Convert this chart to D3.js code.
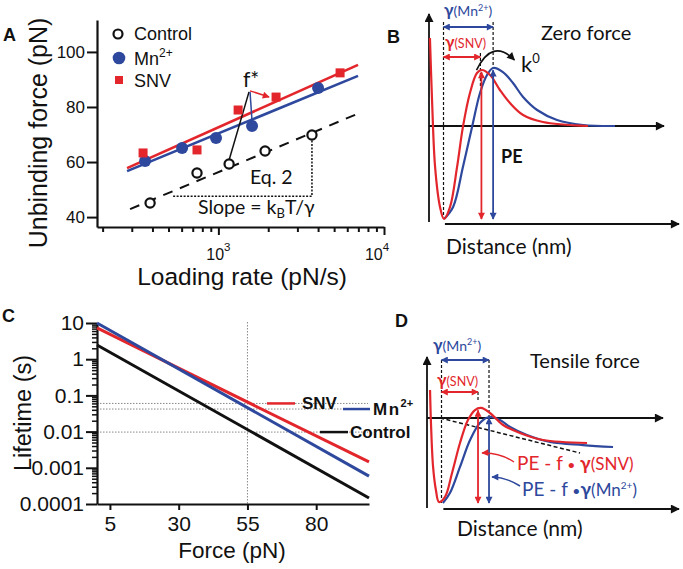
<!DOCTYPE html>
<html><head><meta charset="utf-8">
<script src="https://cdn.jsdelivr.net/npm/d3@7"></script>
<style>
body{margin:0;background:#fff;}
svg text{font-family:"Liberation Sans",Arial,Helvetica,sans-serif;fill:#111;}
svg text.cal{font-family:Lato,"Open Sans",sans-serif;}
</style></head><body>
<svg id="fig" width="683" height="569"></svg>
<script>
// ---------------- Panel A data (unbinding force vs loading rate) ----------------
const rateControl = [387, 743, 1161, 1914, 3673];
const forceControl = [45.1, 56.0, 59.3, 64.0, 69.8];
const rateMn = [361, 604, 968, 1597, 4000];
const forceMn = [60.4, 65.1, 68.7, 73.1, 86.9];
const rateSNV = [351, 743, 1316, 2230, 5430];
const forceSNV = [63.3, 64.4, 78.9, 83.6, 92.4];
const fitRate = [281, 6970];
const fitForceSNV = [57.8, 95.3];
const fitForceMn = [56.7, 91.3];
const fitRateControl = [293, 7360];
const fitForceControl = [42.9, 78.2];
const yTicksA = [40, 60, 80, 100];
const xMajorA = [1000, 10000];
const xMinorA = [200, 300, 400, 500, 600, 700, 800, 900, 2000, 3000, 4000, 5000, 6000, 7000, 8000, 9000];
const legendA = ["Control", "Mn", "SNV"];
const fStarOrigin = [1531, 85.5];
const slopeBracket = [533, 47.6];

// ---------------- Panel C data (lifetime vs force) ----------------
const forceC = [0.3, 99.2];
const lifetimeSNV = [7.3, 0.00145];
const lifetimeMn = [10, 0.00059];
const lifetimeControl = [2.47, 0.000147];
const xTicksC = [5, 30, 55, 80];
const yTicksC = [10, 1, 0.1, 0.01, 0.001, 0.0001];
const yTickLabelsC = ["10", "1", "0.1", "0.01", "0.001", "0.0001"];
const refForceC = 55;
const refLifetimes = [0.06, 0.042, 0.0097];

// ---------------- Panel B / D schematic energy landscapes ----------------
const distB_SNV = [0.4, 1.3, 2.6, 4.7, 6.4, 9.0, 12.0, 14.5, 17.5, 20.5, 22.6, 26.1, 30.3, 34.6, 40.2, 48.7, 67.9];
const peB_SNV = [94.6, 28, -44, -87, -100, -87, -44, -1, 35.5, 57, 60.2, 54.8, 38.7, 24.7, 11.8, 4.3, 0];
const distB_Mn = [6.4, 10.3, 14.5, 18.4, 21.8, 24.8, 27.4, 31.6, 35.9, 40.2, 46.2, 54.7, 65.8, 79.5];
const peB_Mn = [-100, -87, -44, -1, 35.5, 54.8, 62.4, 58, 46.2, 31.2, 17.2, 6.5, 1.1, 0];
const distD_SNV = [1.3, 1.7, 2.6, 3.8, 5.1, 7.7, 10.7, 14.1, 17.5, 20.5, 23.1, 26.9, 32.5, 39.7, 49.6, 68.4];
const peD_SNV = [32.9, -5.9, -57.6, -84.7, -98.8, -92.9, -64.7, -29.4, -2.4, 9.4, 11.8, 5.9, -8.2, -17.6, -25.9, -29.4];
const distD_Mn = [6.8, 9.8, 14.1, 18.4, 22.6, 26.5, 31.2, 35.5, 42.7, 52.6, 66.7, 79.5];
const peD_Mn = [-100, -88.2, -57.6, -25.9, -5.9, 1.2, -2.4, -10.6, -20, -28.2, -31.8, -34.1];
const forceTiltDist = [5.6, 65.4];
const forceTiltPE = [0, -41.2];
const minDist = 6.2, peakSNV_B = 22.4, peakMn_B = 27.4, peakSNV_D = 21.8, peakMn_D = 26.5;

const RED = "#e2262c", BLUE = "#2d489c", BLACK = "#111";
const svg = d3.select("#fig");
svg.append("rect").attr("width", 683).attr("height", 569).attr("fill", "#fff");
const defs = svg.append("defs");
function marker(id, color, w, h) {
  defs.append("marker").attr("id", id).attr("viewBox", "0 0 10 10")
    .attr("refX", 9).attr("refY", 5).attr("markerWidth", w).attr("markerHeight", h)
    .attr("markerUnits", "userSpaceOnUse").attr("orient", "auto-start-reverse")
    .append("path").attr("d", "M0,0L10,5L0,10z").attr("fill", color);
}
marker("axArrow", BLACK, 11, 9);
marker("rArrow", RED, 8, 7);
marker("bArrow", BLUE, 8, 7);
marker("kArrow", BLACK, 9, 8);

function rich(g, x, y, parts, opts = {}) {
  const t = g.append("text").attr("x", x).attr("y", y);
  if (opts.cls) t.attr("class", opts.cls);
  if (opts.anchor) t.attr("text-anchor", opts.anchor);
  if (opts.size) t.attr("font-size", opts.size);
  if (opts.fill) t.style("fill", opts.fill);
  if (opts.weight) t.attr("font-weight", opts.weight);
  if (opts.transform) t.attr("transform", opts.transform);
  parts.forEach(p => {
    const s = t.append("tspan").text(p.t);
    if (p.size) s.attr("font-size", p.size);
    if (p.dy) s.attr("dy", p.dy);
    if (p.weight) s.attr("font-weight", p.weight);
    if (p.fill) s.style("fill", p.fill);
    if (p.ls) s.attr("letter-spacing", p.ls);
  });
  return t;
}

// ======================= PANEL A =======================
const gA = svg.append("g");
const xA = d3.scaleLog().domain([185, 10000]).range([97, 384]);
const yA = d3.scaleLinear().domain([36.4, 111.6]).range([227, 20]);

gA.append("g").attr("transform", "translate(97,0)")
  .call(d3.axisLeft(yA).tickValues(yTicksA).tickSize(10).tickPadding(2).tickSizeOuter(0))
  .call(g => {
    g.select(".domain").attr("stroke-width", 2.2).attr("stroke", BLACK);
    g.selectAll(".tick line").attr("stroke-width", 2).attr("stroke", BLACK);
    g.selectAll(".tick text").attr("font-size", 17).attr("font-family", "Liberation Sans, Arial").style("fill", BLACK);
  });
gA.append("g").attr("transform", "translate(0,227)")
  .call(d3.axisBottom(xA).tickValues(xMinorA).tickSize(5).tickFormat("").tickSizeOuter(0))
  .call(g => { g.select(".domain").attr("stroke-width", 2.2).attr("stroke", BLACK); g.selectAll(".tick line").attr("stroke-width", 2).attr("stroke", BLACK); });
gA.append("g").attr("transform", "translate(0,227)")
  .call(d3.axisBottom(xA).tickValues(xMajorA).tickSize(8).tickFormat("").tickSizeOuter(0))
  .call(g => { g.select(".domain").remove(); g.selectAll(".tick line").attr("stroke-width", 2).attr("stroke", BLACK); });
xMajorA.forEach((v, i) => {
  rich(gA, xA(v) + (i === 1 ? -7 : 0), 260, [{ t: "10" }, { t: String(Math.round(Math.log10(v))), size: 11.5, dy: -9 }], { anchor: "middle", size: 16 });
});
gA.append("text").attr("x", 242).attr("y", 285).attr("text-anchor", "middle").attr("font-size", 24.5).text("Loading rate (pN/s)");
gA.append("text").attr("transform", "translate(47,133) rotate(-90)").attr("text-anchor", "middle").attr("font-size", 25).text("Unbinding force (pN)");
gA.append("text").attr("x", 3).attr("y", 41).attr("font-size", 18).attr("font-weight", "bold").text("A");

// fit lines
const lineA = d3.line().x(d => xA(d[0])).y(d => yA(d[1]));
gA.append("path").attr("d", lineA(d3.zip(fitRateControl, fitForceControl))).attr("fill", "none")
  .attr("stroke", BLACK).attr("stroke-width", 2).attr("stroke-dasharray", "10,8");
gA.append("path").attr("d", lineA(d3.zip(fitRate, fitForceMn))).attr("fill", "none").attr("stroke", BLUE).attr("stroke-width", 2.6);
gA.append("path").attr("d", lineA(d3.zip(fitRate, fitForceSNV))).attr("fill", "none").attr("stroke", RED).attr("stroke-width", 2.6);

// slope bracket (dotted)
gA.append("path").attr("d", `M${xA(slopeBracket[0])},${yA(slopeBracket[1])}H${xA(rateControl[4])}V${yA(forceControl[4]) + 5}`)
  .attr("fill", "none").attr("stroke", BLACK).attr("stroke-width", 1.5).attr("stroke-dasharray", "2,1.5");

// f* leader lines
const fo = [xA(fStarOrigin[0]), yA(fStarOrigin[1])];
gA.append("line").attr("x1", fo[0]).attr("y1", fo[1]).attr("x2", xA(rateControl[2])).attr("y2", yA(forceControl[2]) - 4)
  .attr("stroke", BLACK).attr("stroke-width", 1.5);
gA.append("line").attr("x1", fo[0] + 1).attr("y1", fo[1]).attr("x2", xA(rateMn[3])).attr("y2", yA(forceMn[3]) - 5)
  .attr("stroke", BLUE).attr("stroke-width", 1.5);
gA.append("line").attr("x1", fo[0] + 1).attr("y1", fo[1] - 1).attr("x2", xA(rateSNV[3]) - 7).attr("y2", yA(forceSNV[3]))
  .attr("stroke", RED).attr("stroke-width", 1.5).attr("marker-end", "url(#rArrow)");

// markers
gA.selectAll(".ctl").data(d3.zip(rateControl, forceControl)).join("circle")
  .attr("cx", d => xA(d[0])).attr("cy", d => yA(d[1])).attr("r", 4.6)
  .attr("fill", "#fff").attr("stroke", BLACK).attr("stroke-width", 2.2);
gA.selectAll(".mn").data(d3.zip(rateMn, forceMn)).join("circle")
  .attr("cx", d => xA(d[0])).attr("cy", d => yA(d[1])).attr("r", 6).attr("fill", BLUE);
gA.selectAll(".snv").data(d3.zip(rateSNV, forceSNV)).join("rect")
  .attr("x", d => xA(d[0]) - 4.5).attr("y", d => yA(d[1]) - 4.5).attr("width", 9).attr("height", 9).attr("fill", RED);

gA.append("text").attr("class", "cal").attr("x", 243).attr("y", 87).attr("font-size", 21).text("f*");
gA.append("text").attr("class", "cal").attr("x", 250).attr("y", 184).attr("font-size", 19.5).text("Eq. 2");
rich(gA, 198, 214, [{ t: "Slope = k" }, { t: "B", size: 13, dy: 4 }, { t: "T/γ", dy: -4 }], { cls: "cal", size: 19.5 });

// legend A
gA.append("circle").attr("cx", 118).attr("cy", 34).attr("r", 4.5).attr("fill", "#fff").attr("stroke", BLACK).attr("stroke-width", 2.2);
gA.append("circle").attr("cx", 119).attr("cy", 58).attr("r", 6.3).attr("fill", BLUE);
gA.append("rect").attr("x", 115).attr("y", 76).attr("width", 8).attr("height", 8).attr("fill", RED);
gA.append("text").attr("x", 134).attr("y", 40).attr("font-size", 18).text(legendA[0]);
rich(gA, 134, 65, [{ t: legendA[1] }, { t: "2+", size: 12, dy: -8 }], { size: 18 });
gA.append("text").attr("x", 134).attr("y", 87).attr("font-size", 18).text(legendA[2]);

// ======================= PANEL C =======================
const gC = svg.append("g");
const xC = d3.scaleLinear().domain(forceC).range([97, 369]);
const yC = d3.scaleLog().domain([1e-4, 10]).range([504, 323]);
const minorC = [];
[1e-4, 1e-3, 1e-2, 1e-1, 1].forEach(dec => { for (let k = 2; k <= 9; k++) minorC.push(dec * k); });

// reference dotted lines
refLifetimes.forEach(v => {
  gC.append("line").attr("x1", 97).attr("x2", 368).attr("y1", yC(v)).attr("y2", yC(v))
    .attr("stroke", "#888").attr("stroke-width", 1).attr("stroke-dasharray", "1.5,1.5");
});
gC.append("line").attr("x1", xC(refForceC)).attr("x2", xC(refForceC)).attr("y1", 322).attr("y2", 504)
  .attr("stroke", "#888").attr("stroke-width", 1).attr("stroke-dasharray", "1.5,1.5");

gC.append("g").attr("transform", "translate(97,0)")
  .call(d3.axisLeft(yC).tickValues(minorC).tickSize(5).tickFormat("").tickSizeOuter(0))
  .call(g => { g.select(".domain").attr("stroke-width", 2.2).attr("stroke", BLACK); g.selectAll(".tick line").attr("stroke-width", 1.5).attr("stroke", BLACK); });
gC.append("g").attr("transform", "translate(97,0)")
  .call(d3.axisLeft(yC).tickValues(yTicksC).tickSize(11).tickPadding(2).tickSizeOuter(0).tickFormat((d, i) => yTickLabelsC[i]))
  .call(g => {
    g.select(".domain").remove();
    g.selectAll(".tick line").attr("stroke-width", 2).attr("stroke", BLACK);
    g.selectAll(".tick text").attr("font-size", 21).attr("font-family", "Liberation Sans, Arial").style("fill", BLACK);
  });
gC.append("g").attr("transform", "translate(0,504)")
  .call(d3.axisBottom(xC).tickValues(xTicksC).tickSize(6).tickPadding(6).tickSizeOuter(0))
  .call(g => {
    g.select(".domain").attr("stroke-width", 2.2).attr("stroke", BLACK);
    g.selectAll(".tick line").attr("stroke-width", 2).attr("stroke", BLACK);
    g.selectAll(".tick text").attr("font-size", 21).attr("font-family", "Liberation Sans, Arial").style("fill", BLACK);
  });
gC.append("text").attr("x", 232).attr("y", 558).attr("text-anchor", "middle").attr("font-size", 22.5).text("Force (pN)");
gC.append("text").attr("transform", "translate(31,413) rotate(-90)").attr("text-anchor", "middle").attr("font-size", 23.5).text("Lifetime (s)");
gC.append("text").attr("x", 2).attr("y", 322).attr("font-size", 18).attr("font-weight", "bold").text("C");

const lineC = d3.line().x(d => xC(d[0])).y(d => yC(d[1]));
gC.append("path").attr("d", lineC(d3.zip(forceC, lifetimeSNV))).attr("fill", "none").attr("stroke", RED).attr("stroke-width", 3);
gC.append("path").attr("d", lineC(d3.zip(forceC, lifetimeMn))).attr("fill", "none").attr("stroke", BLUE).attr("stroke-width", 3);
gC.append("path").attr("d", lineC(d3.zip(forceC, lifetimeControl))).attr("fill", "none").attr("stroke", BLACK).attr("stroke-width", 3);

// legend C
const legC = [
  { c: RED, x1: 267, x2: 295, tx: 302, parts: [{ t: "SNV" }] },
  { c: BLUE, x1: 343, x2: 370, tx: 373, parts: [{ t: "Mn", ls: 1.5 }, { t: "2+", size: 11, dy: -8 }] },
  { c: BLACK, x1: 320, x2: 348, tx: 350, parts: [{ t: "Control" }] }
];
legC.forEach((l, i) => {
  const y = yC(refLifetimes[i]);
  gC.append("line").attr("x1", l.x1).attr("x2", l.x2).attr("y1", y).attr("y2", y).attr("stroke", l.c).attr("stroke-width", 2.5);
  rich(gC, l.tx, y + 6, l.parts, { size: 17, weight: "bold" });
});

// ======================= PANEL B =======================
const gB = svg.append("g");
const xB = d3.scaleLinear().domain([0, 100]).range([429, 663]);
const yB = d3.scaleLinear().domain([-100, 100]).range([219, 33]);
const curve = d3.line().curve(d3.curveCatmullRom.alpha(0.5));

// axes
gB.append("line").attr("x1", xB(0)).attr("x2", xB(0)).attr("y1", 222).attr("y2", 14).attr("stroke", BLACK).attr("stroke-width", 1.8).attr("marker-end", "url(#axArrow)");
gB.append("line").attr("x1", xB(0)).attr("x2", 664).attr("y1", yB(0)).attr("y2", yB(0)).attr("stroke", BLACK).attr("stroke-width", 1.8).attr("marker-end", "url(#axArrow)");
gB.append("line").attr("x1", xB(minDist + 0.6)).attr("x2", 679).attr("y1", 224).attr("y2", 224).attr("stroke", BLACK).attr("stroke-width", 1.8).attr("marker-end", "url(#axArrow)");

// dashed guides
gB.append("line").attr("x1", xB(minDist)).attr("x2", xB(minDist)).attr("y1", 22).attr("y2", 216).attr("stroke", BLACK).attr("stroke-width", 1.2).attr("stroke-dasharray", "3,2");
gB.append("line").attr("x1", xB(peakMn_B)).attr("x2", xB(peakMn_B)).attr("y1", 22).attr("y2", 68).attr("stroke", BLACK).attr("stroke-width", 1.2).attr("stroke-dasharray", "3,2");
gB.append("line").attr("x1", xB(peakSNV_B) - 1).attr("x2", xB(peakSNV_B) - 1).attr("y1", 53).attr("y2", 88).attr("stroke", BLACK).attr("stroke-width", 1.2).attr("stroke-dasharray", "3,2");

gB.append("path").attr("d", curve(d3.zip(distB_Mn.map(xB), peB_Mn.map(yB)))).attr("fill", "none").attr("stroke", BLUE).attr("stroke-width", 2.2);
gB.append("path").attr("d", curve(d3.zip(distB_SNV.map(xB), peB_SNV.map(yB)))).attr("fill", "none").attr("stroke", RED).attr("stroke-width", 2.2);

// gamma arrows
gB.append("line").attr("x1", xB(minDist)).attr("x2", xB(peakMn_B)).attr("y1", 27).attr("y2", 27).attr("stroke", BLUE).attr("stroke-width", 1.8).attr("marker-start", "url(#bArrow)").attr("marker-end", "url(#bArrow)");
gB.append("line").attr("x1", xB(minDist)).attr("x2", xB(peakSNV_B) - 1).attr("y1", 57).attr("y2", 57).attr("stroke", RED).attr("stroke-width", 1.8).attr("marker-start", "url(#rArrow)").attr("marker-end", "url(#rArrow)");
// barrier height arrows
gB.append("line").attr("x1", xB(peakSNV_B)).attr("x2", xB(peakSNV_B)).attr("y1", yB(58)).attr("y2", yB(-100)).attr("stroke", RED).attr("stroke-width", 1.8).attr("marker-start", "url(#rArrow)").attr("marker-end", "url(#rArrow)");
gB.append("line").attr("x1", xB(peakMn_B)).attr("x2", xB(peakMn_B)).attr("y1", yB(60)).attr("y2", yB(-100)).attr("stroke", BLUE).attr("stroke-width", 1.8).attr("marker-start", "url(#bArrow)").attr("marker-end", "url(#bArrow)");
// k0 arrow
gB.append("path").attr("d", `M${xB(20.3)},${yB(60)} Q${xB(27)},${yB(95)} ${xB(36.5)},${yB(71)}`).attr("fill", "none").attr("stroke", BLACK).attr("stroke-width", 1.6).attr("marker-end", "url(#kArrow)");

rich(gB, 444, 16, [{ t: "γ", weight: "bold", size: 17 }, { t: "(Mn", size: 14 }, { t: "2+", size: 9, dy: -5 }, { t: ")", size: 14, dy: 5 }], { cls: "cal", fill: BLUE });
rich(gB, 445, 48, [{ t: "γ", weight: "bold", size: 17 }, { t: "(SNV)", size: 12.5 }], { cls: "cal", fill: RED });
rich(gB, 521, 72, [{ t: "k" }, { t: "0", size: 13, dy: -9 }], { cls: "cal", size: 22 });
gB.append("text").attr("class", "cal").attr("x", 541).attr("y", 40).attr("font-size", 20).text("Zero force");
gB.append("text").attr("class", "cal").attr("x", 501).attr("y", 163).attr("font-size", 18).attr("font-weight", "bold").text("PE");
gB.append("text").attr("class", "cal").attr("x", 446).attr("y", 254).attr("font-size", 21).text("Distance (nm)");
gB.append("text").attr("x", 387).attr("y", 43).attr("font-size", 18).attr("font-weight", "bold").text("B");

// ======================= PANEL D =======================
const gD = svg.append("g");
const xD = d3.scaleLinear().domain([0, 100]).range([427, 661]);
const yD = d3.scaleLinear().domain([-100, 100]).range([503, 333]);

gD.append("line").attr("x1", xD(0)).attr("x2", xD(0)).attr("y1", 508).attr("y2", 357).attr("stroke", BLACK).attr("stroke-width", 1.8).attr("marker-end", "url(#axArrow)");
gD.append("line").attr("x1", xD(0)).attr("x2", 663).attr("y1", yD(0)).attr("y2", yD(0)).attr("stroke", BLACK).attr("stroke-width", 1.8).attr("marker-end", "url(#axArrow)");
gD.append("line").attr("x1", xD(minDist + 0.8)).attr("x2", 679).attr("y1", 509).attr("y2", 509).attr("stroke", BLACK).attr("stroke-width", 1.8).attr("marker-end", "url(#axArrow)");

gD.append("line").attr("x1", xD(minDist)).attr("x2", xD(minDist)).attr("y1", 360).attr("y2", 503).attr("stroke", BLACK).attr("stroke-width", 1.2).attr("stroke-dasharray", "3,2");
gD.append("line").attr("x1", xD(peakMn_D)).attr("x2", xD(peakMn_D)).attr("y1", 360).attr("y2", 418).attr("stroke", BLACK).attr("stroke-width", 1.2).attr("stroke-dasharray", "3,2");
gD.append("line").attr("x1", xD(peakSNV_D)).attr("x2", xD(peakSNV_D)).attr("y1", 392).attr("y2", 402).attr("stroke", BLACK).attr("stroke-width", 1.2).attr("stroke-dasharray", "3,2");

gD.append("path").attr("d", curve(d3.zip(forceTiltDist.map(xD), forceTiltPE.map(yD)))).attr("fill", "none").attr("stroke", BLACK).attr("stroke-width", 1.5).attr("stroke-dasharray", "4,2.5");
gD.append("path").attr("d", curve(d3.zip(distD_Mn.map(xD), peD_Mn.map(yD)))).attr("fill", "none").attr("stroke", BLUE).attr("stroke-width", 2.2);
gD.append("path").attr("d", curve(d3.zip(distD_SNV.map(xD), peD_SNV.map(yD)))).attr("fill", "none").attr("stroke", RED).attr("stroke-width", 2.2);

gD.append("line").attr("x1", xD(minDist)).attr("x2", xD(peakMn_D)).attr("y1", 360).attr("y2", 360).attr("stroke", BLUE).attr("stroke-width", 1.8).attr("marker-start", "url(#bArrow)").attr("marker-end", "url(#bArrow)");
gD.append("line").attr("x1", xD(minDist)).attr("x2", xD(peakSNV_D)).attr("y1", 392).attr("y2", 392).attr("stroke", RED).attr("stroke-width", 1.8).attr("marker-start", "url(#rArrow)").attr("marker-end", "url(#rArrow)");
gD.append("line").attr("x1", xD(peakSNV_D)).attr("x2", xD(peakSNV_D)).attr("y1", yD(9)).attr("y2", yD(-100)).attr("stroke", RED).attr("stroke-width", 1.8).attr("marker-start", "url(#rArrow)").attr("marker-end", "url(#rArrow)");
gD.append("line").attr("x1", xD(peakMn_D)).attr("x2", xD(peakMn_D)).attr("y1", yD(0)).attr("y2", yD(-100)).attr("stroke", BLUE).attr("stroke-width", 1.8).attr("marker-start", "url(#bArrow)").attr("marker-end", "url(#bArrow)");

// leaders
gD.append("path").attr("d", "M514,462 Q499,452 482,453").attr("fill", "none").attr("stroke", RED).attr("stroke-width", 1.5).attr("marker-end", "url(#rArrow)");
gD.append("path").attr("d", "M520,486 Q506,477 492,477").attr("fill", "none").attr("stroke", BLUE).attr("stroke-width", 1.5).attr("marker-end", "url(#bArrow)");

rich(gD, 433, 351, [{ t: "γ", weight: "bold", size: 17 }, { t: "(Mn", size: 14 }, { t: "2+", size: 9, dy: -6 }, { t: ")", size: 14, dy: 6 }], { cls: "cal", fill: BLUE });
rich(gD, 437, 386, [{ t: "γ", weight: "bold", size: 17 }, { t: "(SNV)", size: 12.5 }], { cls: "cal", fill: RED });
gD.append("text").attr("class", "cal").attr("x", 530).attr("y", 368).attr("font-size", 20).text("Tensile force");
gD.append("text").attr("class", "cal").attr("x", 457).attr("y", 536).attr("font-size", 21).text("Distance (nm)");
rich(gD, 517, 470, [{ t: "PE - f " }, { t: "•", size: 14 }, { t: " γ", weight: "bold" }, { t: "(SNV)", size: 17 }], { cls: "cal", size: 19, fill: RED });
rich(gD, 522, 496, [{ t: "PE - f " }, { t: "•", size: 14 }, { t: "γ", weight: "bold" }, { t: "(Mn", size: 17 }, { t: "2+", size: 10, dy: -7 }, { t: ")", size: 17, dy: 7 }], { cls: "cal", size: 19, fill: BLUE });
gD.append("text").attr("x", 395).attr("y", 327).attr("font-size", 18).attr("font-weight", "bold").text("D");
</script>
</body></html>
